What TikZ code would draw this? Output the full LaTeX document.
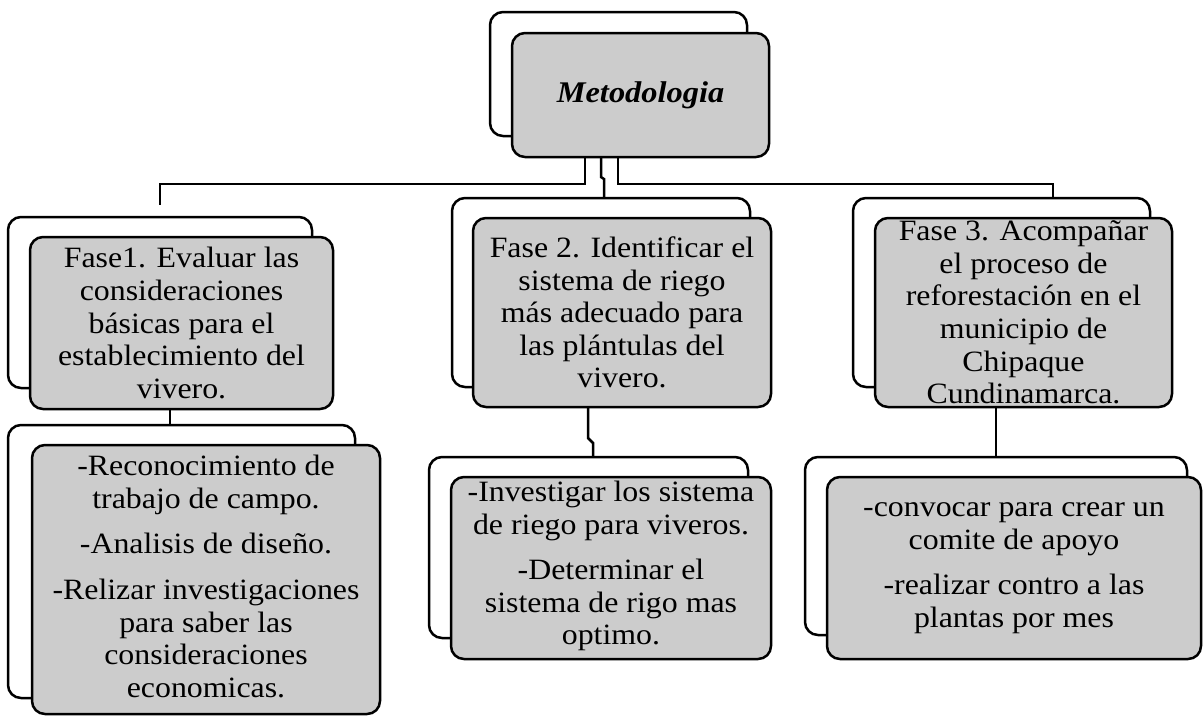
\documentclass[tikz,border=0pt]{standalone}
\usepackage{fontspec}
\setmainfont{Liberation Serif}[FakeStretch=1.08]
\definecolor{boxgray}{RGB}{204,204,204}
\newcommand\boxfont{\fontsize{29.5}{32.6}\selectfont\lineskiplimit=-20pt\relax}
\newcommand\titlefont{\fontsize{30}{33}\selectfont\bfseries\itshape}
\begin{document}
\begin{tikzpicture}[x=1pt,y=-1pt,
  lw/.style={line width=2.5pt},
  backbox/.style={draw, lw, fill=white, rounded corners=13pt, anchor=north west, inner sep=0pt, outer sep=0pt},
  frontbox/.style={draw, lw, fill=boxgray, rounded corners=13pt, anchor=north west, inner sep=0pt, outer sep=0pt},
  boxtext/.style={inner sep=0pt, align=center, font=\boxfont},
  conn/.style={draw, lw, line join=miter}
]
\useasboundingbox (0,0) rectangle (1203,716);

% Metodologia
\node[backbox, minimum width=257pt, minimum height=124pt] (mb) at (490,12) {};
\node[frontbox, minimum width=257pt, minimum height=124pt] (m) at (512,33) {};
\node[boxtext, font=\titlefont] (tm) at (m.center) {Metodologia};

% Fase 1
\node[backbox, minimum width=304pt, minimum height=171pt] (f1b) at (8,217) {};
\node[frontbox, minimum width=303pt, minimum height=172pt] (f1) at (30,237) {};
\node[boxtext] (t1) at (f1.center) {Fase1. Evaluar las\\consideraciones\\básicas para el\\establecimiento del\\vivero.};

% Fase 2
\node[backbox, minimum width=298pt, minimum height=189pt] (f2b) at (452,198) {};
\node[frontbox, minimum width=298pt, minimum height=189pt] (f2) at (473,218) {};
\node[boxtext] (t2) at (f2.center) {Fase 2. Identificar el\\sistema de riego\\más adecuado para\\las plántulas del\\vivero.};

% Fase 3
\node[backbox, minimum width=297pt, minimum height=189pt] (f3b) at (853,198) {};
\node[frontbox, minimum width=297pt, minimum height=189pt] (f3) at (875,218) {};
\node[boxtext] (t3) at (f3.center) {Fase 3. Acompañar\\el proceso de\\reforestación en el\\municipio de\\Chipaque\\Cundinamarca.};

% Detail 1
\node[backbox, minimum width=347pt, minimum height=273pt] (d1b) at (8,425) {};
\node[frontbox, minimum width=348pt, minimum height=269pt] (d1) at (32,445) {};
\node[boxtext] (u1) at ([yshift=3pt]d1.center) {-Reconocimiento de\\trabajo de campo.\\[13pt]-Analisis de diseño.\\[13pt]-Relizar investigaciones\\para saber las\\consideraciones\\economicas.};

% Detail 2
\node[backbox, minimum width=319pt, minimum height=181pt] (d2b) at (429,457) {};
\node[frontbox, minimum width=320pt, minimum height=182pt] (d2) at (451,477) {};
\node[boxtext] (u2) at ([yshift=2pt]d2.center) {-Investigar los sistema\\de riego para viveros.\\[13pt]-Determinar el\\sistema de rigo mas\\optimo.};

% Detail 3
\node[backbox, minimum width=382pt, minimum height=178pt] (d3b) at (805,457) {};
\node[frontbox, minimum width=374pt, minimum height=182pt] (d3) at (827,477) {};
\node[boxtext] (u3) at (d3.center) {-convocar para crear un\\comite de apoyo\\[13pt]-realizar contro a las\\plantas por mes};

% connector coordinates
\coordinate (l1) at (585,0);
\coordinate (bend1) at (160,184);
\coordinate (f1top) at (160,205);
\coordinate (r1) at (618,0);
\coordinate (bend3) at (1053,184);
\coordinate (c1) at (601,177);
\coordinate (c2) at (604,179);
\coordinate (e1) at (588,438);
\coordinate (e2) at (593,443);
\coordinate (g1) at (170,0);
\coordinate (g3) at (996,0);

\draw[conn] (m.south -| l1) |- (bend1) -- (f1top);
\draw[conn] (m.south -| r1) |- (bend3) -- (f3b.north -| bend3);
\draw[conn] (m.south -| c1) -- (c1) -- (c2) -- (f2b.north -| c2);
\draw[conn] (f1.south -| g1) -- (d1b.north -| g1);
\draw[conn] (f2.south -| e1) -- (e1) -- (e2) -- (d2b.north -| e2);
\draw[conn] (f3.south -| g3) -- (d3b.north -| g3);
\end{tikzpicture}
\end{document}
